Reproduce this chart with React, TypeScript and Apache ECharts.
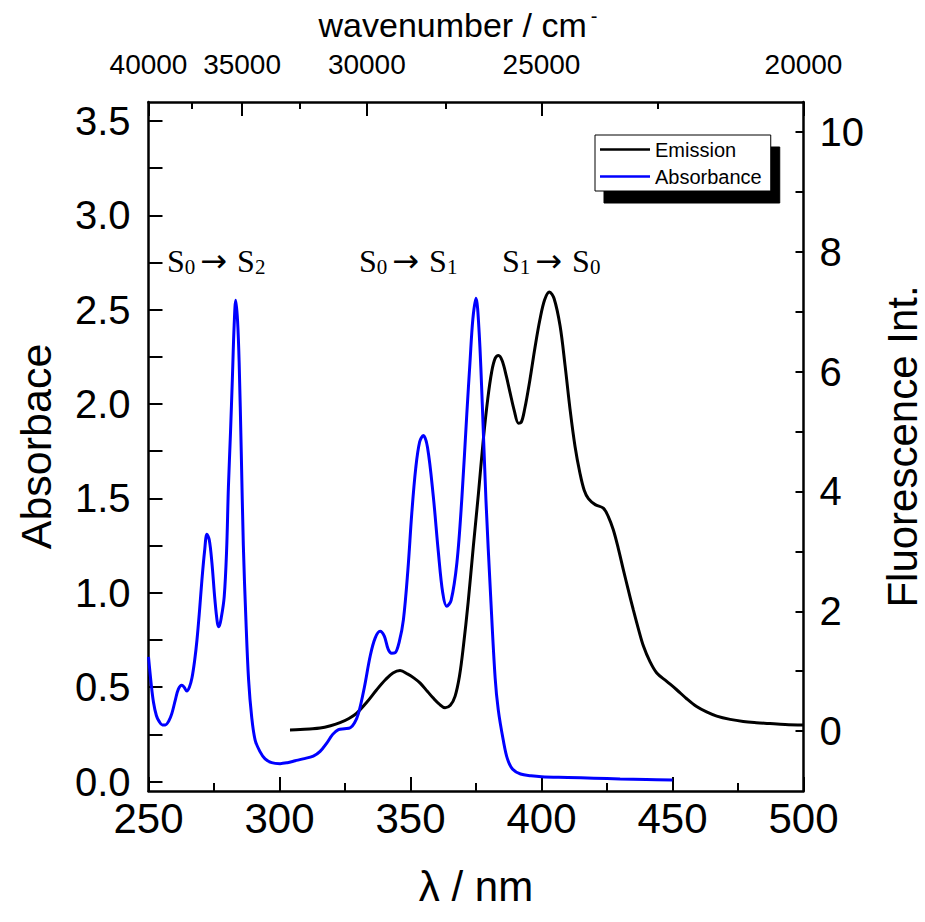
import React, { useEffect, useRef } from "react";
import * as echarts from "echarts";

// Absorbance spectrum (left axis)
const absWavelength = [
  250.0, 251.0, 251.9, 253.0, 254.0, 255.3, 256.4, 257.7, 258.9, 260.2, 261.4, 262.7, 263.6, 264.6, 265.6,
  266.6, 267.6, 268.5, 269.5, 270.4, 271.4, 272.3, 273.2, 274.2, 275.3, 276.3, 276.9, 277.8, 278.9, 279.8,
  280.5, 281.3, 282.0, 282.7, 283.3, 284.0, 284.6, 285.4, 286.2, 287.2, 288.2, 289.4, 290.7, 292.5, 294.5,
  297.0, 300.2, 303.0, 306.0, 309.0, 312.9, 315.5, 318.1, 320.3, 322.5, 324.8, 327.0, 328.6, 330.2, 332.4,
  334.6, 336.5, 338.4, 340.0, 341.5, 342.8, 344.1, 345.7, 347.3, 349.0, 350.5, 352.0, 353.5, 354.9, 356.5,
  358.7, 360.6, 362.3, 363.8, 365.5, 367.7, 369.6, 371.5, 372.7, 373.8, 375.0, 376.2, 377.4, 378.8, 380.6,
  382.3, 383.5, 385.4, 387.0, 389.0, 392.0, 396.0, 400.0, 410.0, 420.0, 430.0, 440.0, 450.0,
];
const absValues = [
  0.66, 0.52, 0.42, 0.35, 0.32, 0.30, 0.30, 0.32, 0.36, 0.43, 0.49, 0.51, 0.50, 0.48, 0.50,
  0.55, 0.64, 0.75, 0.91, 1.07, 1.22, 1.31, 1.28, 1.16, 0.97, 0.84, 0.82, 0.87, 0.98, 1.22,
  1.56, 1.85, 2.13, 2.42, 2.55, 2.44, 2.22, 1.75, 1.25, 0.85, 0.54, 0.34, 0.22, 0.16, 0.12,
  0.10, 0.095, 0.10, 0.11, 0.12, 0.135, 0.16, 0.205, 0.25, 0.275, 0.28, 0.285, 0.31, 0.364, 0.50,
  0.664, 0.76, 0.796, 0.77, 0.70, 0.68, 0.682, 0.74, 0.858, 1.12, 1.423, 1.66, 1.80, 1.833, 1.77,
  1.511, 1.22, 1.00, 0.929, 0.96, 1.158, 1.50, 1.95, 2.22, 2.45, 2.56, 2.38, 2.00, 1.49, 0.98,
  0.55, 0.38, 0.22, 0.12, 0.065, 0.04, 0.031, 0.026, 0.022, 0.018, 0.014, 0.011, 0.008,
];

// Emission spectrum (right axis)
const emWavelength = [
  304.0, 307.9, 311.5, 315.5, 319.5, 323.1, 326.5, 329.5, 333.3, 337.1, 340.5, 343.3, 346.0, 349.0, 351.5,
  353.7, 356.5, 358.5, 361.0, 363.2, 365.2, 367.0, 368.7, 370.2, 372.0, 374.0, 375.9, 377.8, 379.5, 381.0,
  382.3, 383.6, 385.0, 386.6, 388.0, 389.6, 391.2, 392.2, 393.6, 395.6, 397.5, 399.4, 401.2, 403.0, 404.8,
  407.1, 409.0, 410.9, 412.8, 414.7, 416.3, 417.9, 420.5, 423.6, 425.5, 427.4, 429.3, 431.2, 433.1, 435.0,
  436.9, 438.9, 441.4, 444.0, 447.8, 451.6, 455.4, 459.2, 463.0, 466.9, 472.0, 477.0, 482.0, 487.2, 493.0,
  500.0,
];
const emValues = [
  0.02, 0.025, 0.035, 0.05, 0.09, 0.14, 0.21, 0.30, 0.48, 0.69, 0.86, 0.97, 1.01, 0.95, 0.88,
  0.80, 0.66, 0.56, 0.45, 0.39, 0.43, 0.58, 0.92, 1.42, 2.15, 3.09, 3.95, 4.87, 5.55, 6.00,
  6.22, 6.27, 6.18, 5.92, 5.65, 5.35, 5.14, 5.15, 5.38, 5.87, 6.40, 6.87, 7.20, 7.33, 7.22,
  6.76, 6.10, 5.37, 4.75, 4.30, 4.02, 3.88, 3.78, 3.72, 3.58, 3.36, 3.05, 2.70, 2.36, 2.03,
  1.72, 1.42, 1.16, 0.97, 0.83, 0.69, 0.54, 0.41, 0.32, 0.25, 0.195, 0.16, 0.14, 0.125, 0.11,
  0.10,
];

// Axis ticks / labels
const wavelengthTicks = [250, 300, 350, 400, 450, 500];
const wavelengthMinorTicks = [275, 325, 375, 425, 475];
const wavenumberTicks = [40000, 35000, 30000, 25000, 20000];
const wavenumberMinorTicks = [37500, 32500, 27500, 22500];
const absorbanceLabels = [0, 0.5, 1.0, 1.5, 2.0, 2.5, 3.0, 3.5];
const absorbanceTicks = [0, 0.25, 0.5, 0.75, 1.0, 1.25, 1.5, 1.75, 2.0, 2.25, 2.5, 2.75, 3.0, 3.25, 3.5];
const fluorLabels = [0, 2, 4, 6, 8, 10];
const fluorTicks = [0, 1, 2, 3, 4, 5, 6, 7, 8, 9, 10];

const seriesNames = ["Emission", "Absorbance"];
const transitionLabels = ["S{s|0}{a|→}S{s|2}", "S{s|0}{a|→}S{s|1}", "S{s|1}{a|→}S{s|0}"];

const SANS = "'Liberation Sans', Arial, Helvetica, sans-serif";
const SERIF = "'Liberation Serif', 'Times New Roman', serif";

export default function App() {
  const ref = useRef<HTMLDivElement>(null);

  useEffect(() => {
    if (!ref.current) return;
    const chart = echarts.init(ref.current, undefined, { renderer: "svg" });

    const toNm = (w: number) => 1e7 / w;
    const axisLine = { show: true, onZero: false, lineStyle: { color: "#000", width: 2.5 } };
    const noLine = { show: false, onZero: false };

    const xRange = { type: "value" as const, min: 250, max: 500, splitLine: { show: false } };

    const option: any = {
      animation: false,
      backgroundColor: "#fff",
      grid: { left: 148.5, right: 121.5, top: 102, bottom: 131, containLabel: false, outerBoundsMode: "none" },
      legend: {
        data: seriesNames,
        orient: "vertical",
        left: 595,
        top: 135,
        backgroundColor: "#fff",
        borderColor: "#000",
        borderWidth: 1,
        borderRadius: 0,
        padding: [4, 9, 4, 5],
        itemGap: 6,
        itemWidth: 50,
        itemHeight: 2.5,
        icon: "rect",
        shadowColor: "#000",
        shadowBlur: 0,
        shadowOffsetX: 9,
        shadowOffsetY: 12,
        selectedMode: false,
        textStyle: { fontFamily: SANS, fontSize: 20, color: "#000", lineHeight: 21 },
      },
      xAxis: [
        {
          ...xRange,
          position: "bottom",
          axisLine,
          axisTick: { show: true, inside: true, length: 14, customValues: wavelengthTicks, lineStyle: { color: "#000", width: 2 } },
          axisLabel: { customValues: wavelengthTicks, fontFamily: SANS, fontSize: 42, color: "#000", margin: 6 },
          name: "λ / nm",
          nameLocation: "middle",
          nameGap: 74,
          nameTextStyle: { fontFamily: SANS, fontSize: 42, color: "#000" },
        },
        {
          ...xRange,
          position: "bottom",
          axisLine: noLine,
          axisTick: { show: true, inside: true, length: 8, customValues: wavelengthMinorTicks, lineStyle: { color: "#000", width: 2 } },
          axisLabel: { show: false },
        },
        {
          ...xRange,
          position: "top",
          axisLine,
          axisTick: { show: true, inside: true, length: 14, customValues: wavenumberTicks.map(toNm), lineStyle: { color: "#000", width: 2 } },
          axisLabel: {
            customValues: wavenumberTicks.map(toNm),
            formatter: (v: number) => String(Math.round(1e7 / v / 100) * 100),
            fontFamily: SANS,
            fontSize: 28,
            color: "#000",
            margin: 24,
          },
          name: "wavenumber / cm{sup|-}",
          nameLocation: "middle",
          nameGap: 58,
          nameTextStyle: {
            fontFamily: SANS,
            fontSize: 34,
            color: "#000",
            padding: [0, 36, 0, 0],
            rich: { sup: { fontFamily: SANS, fontSize: 20, color: "#000", verticalAlign: "top", padding: [0, 0, 18, 4] } },
          },
        },
        {
          ...xRange,
          position: "top",
          axisLine: noLine,
          axisTick: { show: true, inside: true, length: 7, customValues: wavenumberMinorTicks.map(toNm), lineStyle: { color: "#000", width: 2 } },
          axisLabel: { show: false },
        },
      ],
      yAxis: [
        {
          type: "value",
          position: "left",
          min: -0.05,
          max: 3.6,
          splitLine: { show: false },
          axisLine,
          axisTick: { show: true, inside: true, length: 14, customValues: absorbanceTicks, lineStyle: { color: "#000", width: 2 } },
          axisLabel: {
            customValues: absorbanceLabels,
            formatter: (v: number) => v.toFixed(1),
            fontFamily: SANS,
            fontSize: 40,
            color: "#000",
            margin: 18,
          },
          name: "Absorbace",
          nameLocation: "middle",
          nameRotate: 90,
          nameGap: 91,
          nameTextStyle: { fontFamily: SANS, fontSize: 43, color: "#000" },
        },
        {
          type: "value",
          position: "right",
          min: -1,
          max: 10.5,
          splitLine: { show: false },
          axisLine,
          axisTick: { show: true, inside: true, length: 8, customValues: fluorTicks, lineStyle: { color: "#000", width: 2 } },
          axisLabel: {
            customValues: fluorLabels,
            fontFamily: SANS,
            fontSize: 40,
            color: "#000",
            margin: 16,
          },
          name: "Fluorescence Int.",
          nameLocation: "middle",
          nameRotate: 90,
          nameGap: 78,
          nameTextStyle: { fontFamily: SANS, fontSize: 42, color: "#000" },
        },
      ],
      series: [
        {
          name: seriesNames[0],
          type: "line",
          xAxisIndex: 0,
          yAxisIndex: 1,
          data: emWavelength.map((w, i) => [w, emValues[i]]),
          symbol: "none",
          smooth: 0.35,
          lineStyle: { color: "#000", width: 3 },
          itemStyle: { color: "#000" },
        },
        {
          name: seriesNames[1],
          type: "line",
          xAxisIndex: 0,
          yAxisIndex: 0,
          data: absWavelength.map((w, i) => [w, absValues[i]]),
          symbol: "none",
          smooth: 0.35,
          lineStyle: { color: "#0000ff", width: 3 },
          itemStyle: { color: "#0000ff" },
        },
      ],
      graphic: transitionLabels.map((t, i) => ({
        type: "text",
        x: [167, 359, 502][i],
        y: 261,
        style: {
          text: t,
          fontFamily: SERIF,
          fontSize: 32,
          fill: "#000",
          verticalAlign: "middle",
          rich: {
            s: { fontFamily: SERIF, fontSize: 21, fill: "#000", verticalAlign: "bottom" },
            a: { fontFamily: "'DejaVu Sans', sans-serif", fontSize: 32, fill: "#000", verticalAlign: "bottom", padding: [0, 10, 0, 5] },
          },
        },
      })),
    };

    chart.setOption(option);
    return () => chart.dispose();
  }, []);

  return <div ref={ref} style={{ position: "fixed", left: 0, top: 0, width: 925, height: 922, background: "#fff" }} />;
}
